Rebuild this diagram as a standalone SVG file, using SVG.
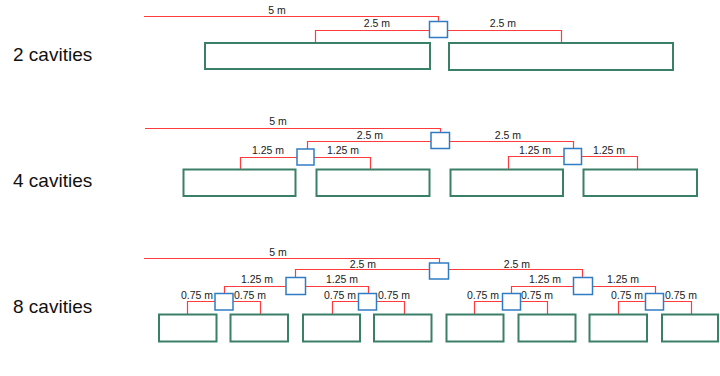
<svg xmlns="http://www.w3.org/2000/svg" width="720" height="376" viewBox="0 0 720 376">
<style>
.pipe{fill:none;stroke:#ff3b3b;stroke-width:1.2}
.jn{fill:#fff;stroke:#2f7cc4;stroke-width:1.5}
.cav{fill:#fff;stroke:#3a7f68;stroke-width:2}
.lbl{font-family:"Liberation Sans",Arial,sans-serif;font-size:10.5px;fill:#1a1a1a;text-anchor:middle}
.row{font-family:"Liberation Sans",Arial,sans-serif;font-size:19px;fill:#111}
</style>
<rect width="720" height="376" fill="#fff"/>
<g id="connectors">
<path class="pipe" d="M144 16.5H438.5V21.5M429.5 30.5H315.5V43M447.5 30.5H561.5V43"/>
<path class="pipe" d="M145 128.5H440.5V132.5M431 141.5H307.5V149M449.5 141.5H573.5V148.5M297 157.5H240.5V169.5M314 157.5H370.5V169.5M564 156.5H508.5V169.5M581.5 156.5H637.5V169.5"/>
<path class="pipe" d="M144 258.5H439.5V263M429.5 269.5H295.5V277.5M448.5 269.5H582.5V277.5M286 286.5H224.5V293.5M305.5 286.5H368.5V293.5M573.5 286.5H511.5V293.5M592.5 286.5H655.5V293.5M215 301.5H187.5V314.5M233 301.5H260.5V314.5M358.5 301.5H332.5V314.5M376.5 301.5H404.5V314.5M502.5 301.5H474.5V314.5M520.5 301.5H547.5V314.5M645.5 301.5H618.5V314.5M663.5 301.5H691.5V314.5"/>
</g>
<g id="labels">
<text class="lbl" x="277" y="13.5">5 m</text>
<text class="lbl" x="377" y="26.5">2.5 m</text>
<text class="lbl" x="503" y="26.5">2.5 m</text>
<text class="lbl" x="278" y="125">5 m</text>
<text class="lbl" x="370" y="138.5">2.5 m</text>
<text class="lbl" x="508" y="138.5">2.5 m</text>
<text class="lbl" x="268" y="154">1.25 m</text>
<text class="lbl" x="343" y="154">1.25 m</text>
<text class="lbl" x="535" y="153.5">1.25 m</text>
<text class="lbl" x="609" y="153.5">1.25 m</text>
<text class="lbl" x="278" y="256">5 m</text>
<text class="lbl" x="363" y="267.5">2.5 m</text>
<text class="lbl" x="517" y="267.5">2.5 m</text>
<text class="lbl" x="257" y="282.7">1.25 m</text>
<text class="lbl" x="342" y="282.7">1.25 m</text>
<text class="lbl" x="545" y="282.7">1.25 m</text>
<text class="lbl" x="623" y="282.7">1.25 m</text>
<text class="lbl" x="197" y="299.3">0.75 m</text>
<text class="lbl" x="250" y="299.3">0.75 m</text>
<text class="lbl" x="340" y="299.3">0.75 m</text>
<text class="lbl" x="394" y="299.3">0.75 m</text>
<text class="lbl" x="483" y="299.3">0.75 m</text>
<text class="lbl" x="537" y="299.3">0.75 m</text>
<text class="lbl" x="627" y="299.3">0.75 m</text>
<text class="lbl" x="681" y="299.3">0.75 m</text>
</g>
<g id="row-2"><text class="row" x="13" y="60.5">2 cavities</text></g>
<g id="row-4"><text class="row" x="13" y="186.5">4 cavities</text></g>
<g id="row-8"><text class="row" x="13" y="313">8 cavities</text></g>
<g id="j2-1"><rect class="jn" x="429.5" y="21.5" width="18" height="16"/></g>
<g id="c2-1"><rect class="cav" x="205" y="43" width="225" height="26"/></g>
<g id="c2-2"><rect class="cav" x="449" y="43" width="224" height="27"/></g>
<g id="j4-1"><rect class="jn" x="431" y="132.5" width="18.5" height="16"/></g>
<g id="j4-2"><rect class="jn" x="297" y="149" width="17" height="16"/></g>
<g id="j4-3"><rect class="jn" x="564" y="148.5" width="17.5" height="16"/></g>
<g id="c4-1"><rect class="cav" x="183.5" y="169.5" width="112" height="26.5"/></g>
<g id="c4-2"><rect class="cav" x="316.5" y="169.5" width="113" height="26.5"/></g>
<g id="c4-3"><rect class="cav" x="450.5" y="169.5" width="112.5" height="26.5"/></g>
<g id="c4-4"><rect class="cav" x="583.5" y="169.5" width="113.5" height="26.5"/></g>
<g id="j8-1"><rect class="jn" x="429.5" y="263" width="19" height="16"/></g>
<g id="j8-2"><rect class="jn" x="286" y="277.5" width="19.5" height="17"/></g>
<g id="j8-3"><rect class="jn" x="573.5" y="277.5" width="19" height="17"/></g>
<g id="j8-4"><rect class="jn" x="215" y="293.5" width="18" height="16.5"/></g>
<g id="j8-5"><rect class="jn" x="358.5" y="293.5" width="18" height="16.5"/></g>
<g id="j8-6"><rect class="jn" x="502.5" y="293.5" width="18" height="16.5"/></g>
<g id="j8-7"><rect class="jn" x="645.5" y="293.5" width="18" height="16.5"/></g>
<g id="c8-1"><rect class="cav" x="159" y="314.5" width="57.5" height="27"/></g>
<g id="c8-2"><rect class="cav" x="230.5" y="314.5" width="57.5" height="27"/></g>
<g id="c8-3"><rect class="cav" x="303" y="314.5" width="57" height="27"/></g>
<g id="c8-4"><rect class="cav" x="374" y="314.5" width="57.5" height="27"/></g>
<g id="c8-5"><rect class="cav" x="446.5" y="314.5" width="57" height="27"/></g>
<g id="c8-6"><rect class="cav" x="518.5" y="314.5" width="57" height="27"/></g>
<g id="c8-7"><rect class="cav" x="589.5" y="314.5" width="57.5" height="27"/></g>
<g id="c8-8"><rect class="cav" x="662" y="314.5" width="56" height="27"/></g>
</svg>
